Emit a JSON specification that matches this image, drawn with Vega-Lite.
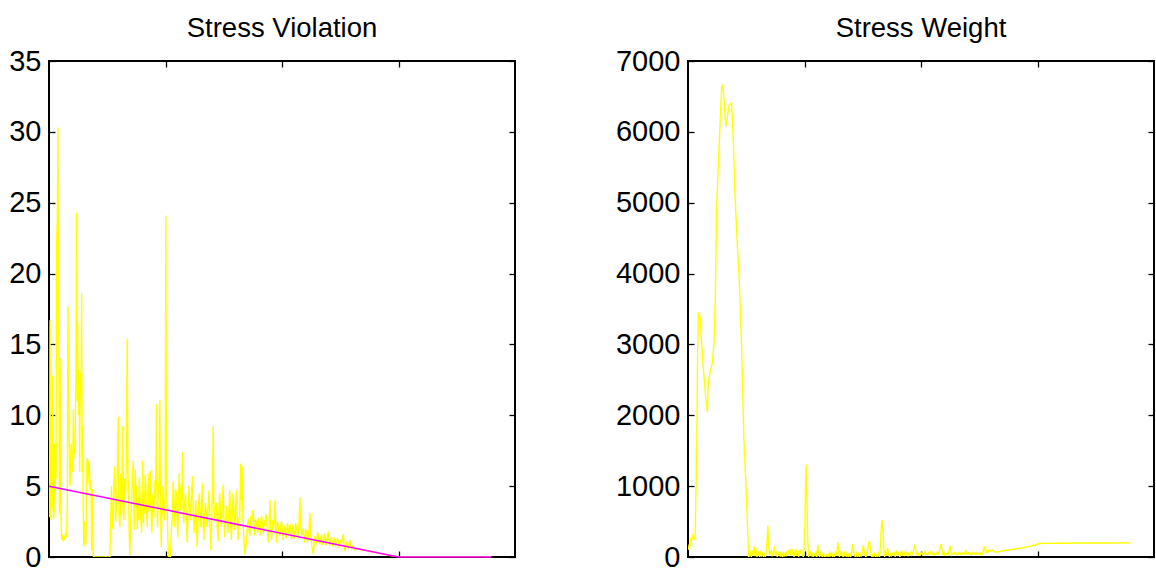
{
"$schema":"https://vega.github.io/schema/vega-lite/v6.json",
"background":"white",
"padding":{"left":7,"top":13,"right":0,"bottom":0},
"bounds":"flush",
"spacing":173,
"config":{
 "view":{"stroke":"black","strokeWidth":2},
 "axis":{"domain":false,"grid":false,"ticks":true,"tickSize":-6,"tickColor":"black","tickWidth":1.3,"labelFont":"Liberation Sans","labelFontSize":29,"labelColor":"black","labelPadding":14,"title":null},
 "title":{"font":"Liberation Sans","fontSize":27.5,"fontWeight":"normal","color":"black","offset":5}
},
"datasets":{
"viol":[{"x":0,"v":4.5},{"x":4,"v":2.8},{"x":8.6,"v":16.7},{"x":12,"v":4},{"x":17,"v":2.6},{"x":23,"v":6.8},{"x":27,"v":3.5},{"x":31.5,"v":12.8},{"x":36,"v":3.2},{"x":40,"v":5.5},{"x":43,"v":2.7},{"x":47,"v":8},{"x":51.5,"v":4},{"x":56,"v":7},{"x":60,"v":5.5},{"x":65,"v":22},{"x":71.5,"v":23.8},{"x":77,"v":30.3},{"x":81,"v":18},{"x":86,"v":13.9},{"x":90,"v":3},{"x":95,"v":14},{"x":100,"v":5.9},{"x":104,"v":2.5},{"x":109,"v":1.2},{"x":116,"v":1.6},{"x":123,"v":1.1},{"x":130,"v":1.5},{"x":137,"v":1.2},{"x":144,"v":1.7},{"x":151,"v":1.4},{"x":157,"v":4},{"x":163,"v":17.7},{"x":168,"v":12},{"x":174,"v":7.8},{"x":180,"v":5},{"x":186,"v":5.7},{"x":190,"v":8},{"x":194,"v":7.2},{"x":200,"v":7.6},{"x":204,"v":6},{"x":208.6,"v":10.4},{"x":213,"v":7},{"x":218,"v":7.8},{"x":223,"v":7.3},{"x":228,"v":11},{"x":231.5,"v":13},{"x":237,"v":24.3},{"x":242,"v":11},{"x":246,"v":16.5},{"x":249,"v":13},{"x":254,"v":10},{"x":260,"v":13.2},{"x":263,"v":6},{"x":266,"v":10.4},{"x":272,"v":13},{"x":276,"v":12},{"x":280,"v":18.6},{"x":284,"v":6},{"x":289,"v":9.2},{"x":294,"v":3},{"x":300,"v":0.7},{"x":305,"v":2.5},{"x":311,"v":0.9},{"x":317,"v":1},{"x":323,"v":6.5},{"x":329,"v":7},{"x":334,"v":5.2},{"x":340,"v":6.8},{"x":346,"v":6.6},{"x":352,"v":4.8},{"x":357,"v":5.4},{"x":362,"v":4.5},{"x":366,"v":0.5},{"x":370,"v":2},{"x":374,"v":4.8},{"x":378,"v":0.3},{"x":382,"v":0},{"x":450,"v":0},{"x":523,"v":0},{"x":530,"v":3},{"x":537,"v":5},{"x":544,"v":2},{"x":551.5,"v":2.6},{"x":558,"v":5.5},{"x":566,"v":6.4},{"x":573,"v":2.5},{"x":580,"v":3.6},{"x":587,"v":6},{"x":594,"v":9.9},{"x":601,"v":3},{"x":609,"v":2.1},{"x":617,"v":5.9},{"x":624,"v":3},{"x":632,"v":9.2},{"x":638,"v":4},{"x":643,"v":2.6},{"x":650,"v":5.5},{"x":657,"v":4.5},{"x":664,"v":6.5},{"x":671,"v":15.4},{"x":677,"v":6},{"x":683,"v":4.5},{"x":688,"v":2},{"x":694,"v":0.1},{"x":701,"v":2.5},{"x":709,"v":3.8},{"x":716,"v":5.8},{"x":723,"v":6.8},{"x":729,"v":3},{"x":734,"v":1.9},{"x":741,"v":6.2},{"x":747,"v":3.5},{"x":752,"v":5},{"x":758,"v":2},{"x":764,"v":4.2},{"x":769,"v":2.6},{"x":775,"v":5.6},{"x":780,"v":4.5},{"x":787,"v":3},{"x":794,"v":1.7},{"x":799,"v":3.8},{"x":803,"v":6.8},{"x":810,"v":2.4},{"x":815,"v":4.6},{"x":820,"v":3.1},{"x":826,"v":5.8},{"x":831.5,"v":4.7},{"x":837,"v":3.4},{"x":843,"v":2.1},{"x":849,"v":4.4},{"x":854,"v":5.9},{"x":860,"v":3.2},{"x":866,"v":3.8},{"x":872,"v":6.1},{"x":878,"v":2.5},{"x":883,"v":1.7},{"x":889,"v":4},{"x":894,"v":4.5},{"x":900,"v":2.8},{"x":905,"v":5.4},{"x":912,"v":4.1},{"x":918,"v":6.8},{"x":923,"v":10.8},{"x":928,"v":3.5},{"x":932,"v":2.1},{"x":938,"v":5.2},{"x":943,"v":4.5},{"x":947,"v":6.5},{"x":951.5,"v":11.1},{"x":957,"v":3.8},{"x":963,"v":0.7},{"x":968,"v":2.9},{"x":974,"v":3.3},{"x":979,"v":5},{"x":983,"v":4},{"x":989,"v":2.6},{"x":994,"v":3.1},{"x":998,"v":4.3},{"x":1003,"v":24.1},{"x":1008,"v":5},{"x":1014,"v":3.6},{"x":1020,"v":1.5},{"x":1026,"v":0},{"x":1043,"v":0},{"x":1050,"v":1.8},{"x":1057,"v":2.6},{"x":1062,"v":4.4},{"x":1066,"v":5.3},{"x":1073,"v":3.2},{"x":1080,"v":2.1},{"x":1087,"v":4.8},{"x":1094,"v":4.5},{"x":1100,"v":2.9},{"x":1106,"v":1.4},{"x":1112,"v":3.9},{"x":1117,"v":5.9},{"x":1123,"v":4.3},{"x":1129,"v":3.3},{"x":1135,"v":5.1},{"x":1140,"v":4},{"x":1146,"v":7.4},{"x":1152,"v":3.1},{"x":1157,"v":2.4},{"x":1164,"v":3.8},{"x":1171.5,"v":4.5},{"x":1178,"v":2.9},{"x":1186,"v":1},{"x":1193,"v":3.4},{"x":1200,"v":5},{"x":1207,"v":3.6},{"x":1214,"v":2.6},{"x":1222,"v":4.1},{"x":1231.5,"v":5.7},{"x":1238,"v":3.3},{"x":1246,"v":1.7},{"x":1253,"v":3},{"x":1260,"v":4},{"x":1266,"v":2.3},{"x":1271.5,"v":0.7},{"x":1280,"v":2.9},{"x":1289,"v":4.5},{"x":1296,"v":3.2},{"x":1303,"v":2.1},{"x":1310,"v":3.7},{"x":1317,"v":5.2},{"x":1323,"v":2.8},{"x":1329,"v":1.2},{"x":1336,"v":2.9},{"x":1343,"v":3.8},{"x":1350,"v":3.1},{"x":1357,"v":2.1},{"x":1365,"v":3.5},{"x":1374,"v":4.7},{"x":1381,"v":2.6},{"x":1389,"v":0.5},{"x":1396,"v":2.4},{"x":1402,"v":4.2},{"x":1409,"v":9.2},{"x":1414,"v":4},{"x":1420,"v":2.6},{"x":1428,"v":3.4},{"x":1437,"v":3.8},{"x":1444,"v":2.2},{"x":1451.5,"v":1.1},{"x":1458,"v":3.2},{"x":1466,"v":4.5},{"x":1473,"v":3},{"x":1480,"v":2.1},{"x":1487,"v":3.6},{"x":1494,"v":5.1},{"x":1501,"v":2.9},{"x":1509,"v":1.4},{"x":1516,"v":2.7},{"x":1523,"v":3.6},{"x":1530,"v":2.5},{"x":1537,"v":1.7},{"x":1544,"v":3.2},{"x":1551.5,"v":4.7},{"x":1558,"v":2.8},{"x":1566,"v":1.2},{"x":1573,"v":3.1},{"x":1580,"v":4.5},{"x":1587,"v":2.9},{"x":1594,"v":1.9},{"x":1601,"v":3.5},{"x":1609,"v":4.7},{"x":1616,"v":2.6},{"x":1623,"v":1.2},{"x":1630,"v":2.8},{"x":1637,"v":2.6},{"x":1645,"v":6.6},{"x":1651,"v":4},{"x":1657,"v":6.4},{"x":1663,"v":3.5},{"x":1668,"v":2},{"x":1675,"v":1},{"x":1682,"v":0.2},{"x":1690,"v":0.8},{"x":1697,"v":1.2},{"x":1704,"v":2.3},{"x":1711,"v":2.7},{"x":1718,"v":1.8},{"x":1725,"v":1.5},{"x":1732,"v":2.9},{"x":1740,"v":2.2},{"x":1747,"v":3.3},{"x":1754,"v":3.1},{"x":1761,"v":2},{"x":1768,"v":1.5},{"x":1775,"v":2.6},{"x":1783,"v":2.4},{"x":1790,"v":1.7},{"x":1797,"v":2.8},{"x":1804,"v":2.1},{"x":1811,"v":1.5},{"x":1818,"v":2.5},{"x":1825,"v":2.9},{"x":1833,"v":2.2},{"x":1840,"v":1.7},{"x":1847,"v":2.6},{"x":1854,"v":2.2},{"x":1861,"v":3},{"x":1868,"v":2.9},{"x":1875,"v":1.8},{"x":1883,"v":1},{"x":1890,"v":2.2},{"x":1897,"v":4},{"x":1904,"v":2.1},{"x":1911,"v":1.2},{"x":1918,"v":2.6},{"x":1926,"v":2},{"x":1933,"v":2.4},{"x":1940,"v":4},{"x":1947,"v":1.9},{"x":1954,"v":1},{"x":1961,"v":2.5},{"x":1968,"v":2.2},{"x":1975,"v":1.7},{"x":1983,"v":1.5},{"x":1990,"v":2.3},{"x":1997,"v":2.5},{"x":2004,"v":1.8},{"x":2011,"v":1.2},{"x":2018,"v":2.1},{"x":2026,"v":2.2},{"x":2033,"v":1.3},{"x":2040,"v":1.5},{"x":2047,"v":2.4},{"x":2054,"v":2},{"x":2061,"v":1.6},{"x":2069,"v":2.3},{"x":2076,"v":1.9},{"x":2083,"v":1.2},{"x":2090,"v":2.2},{"x":2097,"v":2.1},{"x":2104,"v":1.3},{"x":2111,"v":1.5},{"x":2118,"v":2.4},{"x":2126,"v":2},{"x":2133,"v":1.5},{"x":2140,"v":1.4},{"x":2147,"v":2.5},{"x":2154,"v":4.2},{"x":2161,"v":2.2},{"x":2169,"v":1.5},{"x":2176,"v":1.8},{"x":2183,"v":2},{"x":2190,"v":1.4},{"x":2197,"v":1},{"x":2205,"v":1.9},{"x":2212,"v":1.8},{"x":2219,"v":1.1},{"x":2226,"v":1.2},{"x":2233,"v":2},{"x":2240,"v":3.1},{"x":2247,"v":1.6},{"x":2255,"v":0.9},{"x":2262,"v":0.5},{"x":2269,"v":0.2},{"x":2276,"v":1.1},{"x":2283,"v":1.5},{"x":2290,"v":0.9},{"x":2297,"v":1},{"x":2305,"v":1.7},{"x":2312,"v":1.6},{"x":2319,"v":1.1},{"x":2326,"v":0.9},{"x":2333,"v":1.4},{"x":2340,"v":1.5},{"x":2347,"v":0.9},{"x":2355,"v":1},{"x":2362,"v":1.6},{"x":2369,"v":1.6},{"x":2376,"v":0.8},{"x":2383,"v":1},{"x":2390,"v":1.5},{"x":2398,"v":1.8},{"x":2405,"v":1.1},{"x":2412,"v":0.8},{"x":2419,"v":1.2},{"x":2426,"v":1.4},{"x":2433,"v":0.8},{"x":2440,"v":0.8},{"x":2447,"v":1.3},{"x":2455,"v":1.2},{"x":2462,"v":0.8},{"x":2469,"v":0.9},{"x":2476,"v":1.3},{"x":2483,"v":1.2},{"x":2490,"v":0.7},{"x":2498,"v":0.8},{"x":2505,"v":1.2},{"x":2512,"v":1},{"x":2519,"v":1.4},{"x":2526,"v":1.6},{"x":2533,"v":0.9},{"x":2541,"v":0.4},{"x":2548,"v":0.8},{"x":2555,"v":1},{"x":2562,"v":0.8},{"x":2569,"v":0.6},{"x":2576,"v":0.9},{"x":2584,"v":1.2},{"x":2591,"v":0.8},{"x":2598,"v":0.6},{"x":2605,"v":0.75},{"x":2612,"v":0.8},{"x":2619,"v":0.6},{"x":2626,"v":0.5},{"x":2633,"v":0.65},{"x":2641,"v":0.6},{"x":2655,"v":0.58},{"x":2669,"v":0.5},{"x":2684,"v":0.52},{"x":2698,"v":0.5},{"x":2712,"v":0.47},{"x":2727,"v":0.45},{"x":2741,"v":0.44},{"x":2755,"v":0.4},{"x":2784,"v":0.36},{"x":2812,"v":0.3},{"x":2841,"v":0.26},{"x":2870,"v":0.2},{"x":2898,"v":0.16},{"x":2927,"v":0.11},{"x":2960,"v":0.06},{"x":3004,"v":0},{"x":3400,"v":0},{"x":3797,"v":0}],
"thr":[{"x":0,"v":5},{"x":3000,"v":0},{"x":3797,"v":0}],
"weight":[{"x":3,"v":100},{"x":10,"v":180},{"x":17,"v":140},{"x":24,"v":250},{"x":31,"v":230},{"x":40,"v":300},{"x":50,"v":270},{"x":60,"v":250},{"x":74,"v":1370},{"x":82,"v":2800},{"x":89,"v":3440},{"x":96,"v":3420},{"x":103,"v":3390},{"x":117,"v":3015},{"x":137,"v":2545},{"x":154,"v":2215},{"x":166,"v":2050},{"x":172,"v":2400},{"x":180,"v":2520},{"x":194,"v":2640},{"x":209,"v":2733},{"x":223,"v":3015},{"x":234,"v":3627},{"x":246,"v":4944},{"x":260,"v":5508},{"x":274,"v":6073},{"x":289,"v":6637},{"x":300,"v":6660},{"x":311,"v":6402},{"x":326,"v":6073},{"x":337,"v":6190},{"x":354,"v":6380},{"x":374,"v":6402},{"x":389,"v":5885},{"x":403,"v":5132},{"x":423,"v":4426},{"x":440,"v":3909},{"x":460,"v":2968},{"x":480,"v":1651},{"x":494,"v":1134},{"x":509,"v":522},{"x":520,"v":0},{"x":528,"v":20},{"x":536,"v":60},{"x":544,"v":0},{"x":552,"v":90},{"x":560,"v":30},{"x":568,"v":150},{"x":576,"v":10},{"x":584,"v":120},{"x":592,"v":0},{"x":600,"v":40},{"x":608,"v":80},{"x":616,"v":0},{"x":624,"v":60},{"x":632,"v":20},{"x":640,"v":50},{"x":648,"v":0},{"x":656,"v":40},{"x":664,"v":10},{"x":672,"v":100},{"x":680,"v":250},{"x":686,"v":440},{"x":692,"v":200},{"x":700,"v":20},{"x":708,"v":60},{"x":716,"v":90},{"x":724,"v":10},{"x":732,"v":60},{"x":738,"v":100},{"x":743,"v":150},{"x":750,"v":40},{"x":758,"v":80},{"x":766,"v":0},{"x":774,"v":60},{"x":782,"v":30},{"x":790,"v":80},{"x":798,"v":10},{"x":806,"v":40},{"x":814,"v":0},{"x":822,"v":50},{"x":830,"v":20},{"x":838,"v":70},{"x":846,"v":10},{"x":854,"v":90},{"x":862,"v":40},{"x":870,"v":100},{"x":878,"v":20},{"x":886,"v":120},{"x":894,"v":30},{"x":902,"v":110},{"x":910,"v":0},{"x":918,"v":60},{"x":926,"v":110},{"x":934,"v":20},{"x":942,"v":90},{"x":950,"v":0},{"x":958,"v":100},{"x":966,"v":50},{"x":974,"v":110},{"x":982,"v":30},{"x":990,"v":0},{"x":1000,"v":200},{"x":1008,"v":900},{"x":1014,"v":1305},{"x":1020,"v":900},{"x":1027,"v":300},{"x":1035,"v":0},{"x":1043,"v":40},{"x":1050,"v":80},{"x":1058,"v":10},{"x":1066,"v":60},{"x":1074,"v":0},{"x":1082,"v":40},{"x":1090,"v":20},{"x":1098,"v":60},{"x":1106,"v":0},{"x":1114,"v":175},{"x":1122,"v":60},{"x":1130,"v":0},{"x":1138,"v":80},{"x":1146,"v":20},{"x":1154,"v":0},{"x":1162,"v":60},{"x":1170,"v":10},{"x":1178,"v":0},{"x":1186,"v":30},{"x":1194,"v":10},{"x":1202,"v":40},{"x":1210,"v":0},{"x":1218,"v":60},{"x":1226,"v":20},{"x":1234,"v":50},{"x":1242,"v":0},{"x":1250,"v":40},{"x":1258,"v":10},{"x":1266,"v":60},{"x":1274,"v":20},{"x":1280,"v":100},{"x":1286,"v":210},{"x":1292,"v":100},{"x":1300,"v":0},{"x":1308,"v":50},{"x":1316,"v":90},{"x":1324,"v":20},{"x":1332,"v":0},{"x":1340,"v":80},{"x":1348,"v":20},{"x":1356,"v":60},{"x":1364,"v":0},{"x":1372,"v":40},{"x":1380,"v":10},{"x":1388,"v":60},{"x":1396,"v":0},{"x":1404,"v":60},{"x":1414,"v":185},{"x":1422,"v":80},{"x":1430,"v":20},{"x":1438,"v":0},{"x":1446,"v":50},{"x":1454,"v":10},{"x":1462,"v":60},{"x":1470,"v":0},{"x":1478,"v":40},{"x":1486,"v":10},{"x":1494,"v":60},{"x":1500,"v":120},{"x":1506,"v":165},{"x":1512,"v":80},{"x":1520,"v":20},{"x":1528,"v":0},{"x":1536,"v":60},{"x":1544,"v":100},{"x":1550,"v":180},{"x":1557,"v":230},{"x":1564,"v":120},{"x":1572,"v":30},{"x":1580,"v":0},{"x":1588,"v":40},{"x":1596,"v":10},{"x":1604,"v":60},{"x":1612,"v":0},{"x":1620,"v":30},{"x":1628,"v":10},{"x":1636,"v":50},{"x":1644,"v":0},{"x":1652,"v":150},{"x":1659,"v":400},{"x":1666,"v":520},{"x":1673,"v":400},{"x":1680,"v":150},{"x":1688,"v":0},{"x":1696,"v":60},{"x":1704,"v":20},{"x":1714,"v":130},{"x":1722,"v":40},{"x":1730,"v":0},{"x":1738,"v":40},{"x":1746,"v":20},{"x":1754,"v":50},{"x":1762,"v":30},{"x":1770,"v":60},{"x":1778,"v":10},{"x":1786,"v":40},{"x":1794,"v":80},{"x":1802,"v":30},{"x":1810,"v":60},{"x":1818,"v":0},{"x":1826,"v":50},{"x":1834,"v":90},{"x":1842,"v":20},{"x":1850,"v":60},{"x":1858,"v":30},{"x":1866,"v":80},{"x":1874,"v":40},{"x":1882,"v":60},{"x":1890,"v":20},{"x":1898,"v":50},{"x":1906,"v":40},{"x":1914,"v":70},{"x":1922,"v":30},{"x":1930,"v":60},{"x":1938,"v":100},{"x":1946,"v":175},{"x":1954,"v":100},{"x":1962,"v":40},{"x":1970,"v":60},{"x":1978,"v":30},{"x":1986,"v":50},{"x":1994,"v":40},{"x":2002,"v":60},{"x":2010,"v":30},{"x":2018,"v":50},{"x":2026,"v":40},{"x":2034,"v":80},{"x":2042,"v":40},{"x":2050,"v":50},{"x":2058,"v":30},{"x":2066,"v":60},{"x":2074,"v":40},{"x":2082,"v":70},{"x":2090,"v":50},{"x":2098,"v":40},{"x":2106,"v":60},{"x":2114,"v":30},{"x":2122,"v":50},{"x":2130,"v":40},{"x":2138,"v":70},{"x":2146,"v":40},{"x":2154,"v":60},{"x":2162,"v":120},{"x":2171,"v":185},{"x":2180,"v":110},{"x":2188,"v":40},{"x":2196,"v":60},{"x":2204,"v":30},{"x":2212,"v":50},{"x":2220,"v":40},{"x":2228,"v":60},{"x":2236,"v":40},{"x":2242,"v":100},{"x":2249,"v":160},{"x":2256,"v":90},{"x":2264,"v":30},{"x":2272,"v":50},{"x":2280,"v":40},{"x":2288,"v":60},{"x":2296,"v":40},{"x":2304,"v":50},{"x":2312,"v":30},{"x":2320,"v":60},{"x":2328,"v":40},{"x":2336,"v":50},{"x":2344,"v":30},{"x":2352,"v":60},{"x":2360,"v":40},{"x":2368,"v":50},{"x":2376,"v":40},{"x":2384,"v":90},{"x":2392,"v":50},{"x":2400,"v":40},{"x":2408,"v":60},{"x":2416,"v":40},{"x":2424,"v":50},{"x":2432,"v":30},{"x":2440,"v":60},{"x":2448,"v":40},{"x":2456,"v":50},{"x":2464,"v":40},{"x":2472,"v":60},{"x":2480,"v":40},{"x":2488,"v":50},{"x":2496,"v":40},{"x":2504,"v":60},{"x":2512,"v":40},{"x":2520,"v":50},{"x":2528,"v":40},{"x":2536,"v":100},{"x":2543,"v":150},{"x":2550,"v":100},{"x":2558,"v":60},{"x":2566,"v":90},{"x":2574,"v":70},{"x":2582,"v":100},{"x":2590,"v":80},{"x":2600,"v":90},{"x":2614,"v":95},{"x":2630,"v":75},{"x":2643,"v":67},{"x":2660,"v":72},{"x":2680,"v":80},{"x":2700,"v":85},{"x":2729,"v":95},{"x":2760,"v":100},{"x":2800,"v":110},{"x":2840,"v":120},{"x":2871,"v":130},{"x":2900,"v":140},{"x":2930,"v":150},{"x":2957,"v":160},{"x":2980,"v":170},{"x":3000,"v":180},{"x":3014,"v":190},{"x":3050,"v":193},{"x":3200,"v":195},{"x":3400,"v":197},{"x":3600,"v":198},{"x":3800,"v":200}]
},
"hconcat":[
 {
  "width":466,"height":496,
  "title":{"text":"Stress Violation"},
  "layer":[
   {"data":{"name":"viol"},"mark":{"type":"line","color":"#ffff00","strokeWidth":1.4,"clip":true},
    "encoding":{
     "x":{"field":"x","type":"quantitative","scale":{"domain":[0,4000],"nice":false,"zero":false},"axis":{"orient":"bottom","values":[1000,2000,3000],"labels":false,"title":null}},
     "y":{"field":"v","type":"quantitative","scale":{"domain":[0,35],"nice":false},"axis":{"orient":"left","values":[0,5,10,15,20,25,30,35],"title":null}}}},
   {"data":{"name":"thr"},"mark":{"type":"line","color":"#ff00ff","strokeWidth":1.5},
    "encoding":{
     "x":{"field":"x","type":"quantitative","scale":{"domain":[0,4000],"nice":false,"zero":false},"axis":{"orient":"top","values":[1000,2000,3000],"labels":false,"title":null}},
     "y":{"field":"v","type":"quantitative","scale":{"domain":[0,35],"nice":false},"axis":{"orient":"right","values":[0,5,10,15,20,25,30,35],"labels":false,"title":null}}}}
  ],
  "resolve":{"scale":{"x":"independent","y":"independent"}}
 },
 {
  "width":466,"height":496,
  "title":{"text":"Stress Weight"},
  "layer":[
   {"data":{"name":"weight"},"mark":{"type":"line","color":"#ffff00","strokeWidth":1.4,"clip":true},
    "encoding":{
     "x":{"field":"x","type":"quantitative","scale":{"domain":[0,4000],"nice":false,"zero":false},"axis":{"orient":"bottom","values":[1000,2000,3000],"labels":false,"title":null}},
     "y":{"field":"v","type":"quantitative","scale":{"domain":[0,7000],"nice":false},"axis":{"orient":"left","values":[0,1000,2000,3000,4000,5000,6000,7000],"format":"d","title":null}}}},
   {"data":{"name":"weight"},"mark":{"type":"line","opacity":0},
    "encoding":{
     "x":{"field":"x","type":"quantitative","scale":{"domain":[0,4000],"nice":false,"zero":false},"axis":{"orient":"top","values":[1000,2000,3000],"labels":false,"title":null}},
     "y":{"field":"v","type":"quantitative","scale":{"domain":[0,7000],"nice":false},"axis":{"orient":"right","values":[0,1000,2000,3000,4000,5000,6000,7000],"labels":false,"title":null}}}}
  ],
  "resolve":{"scale":{"x":"independent","y":"independent"}}
 }
]
}
